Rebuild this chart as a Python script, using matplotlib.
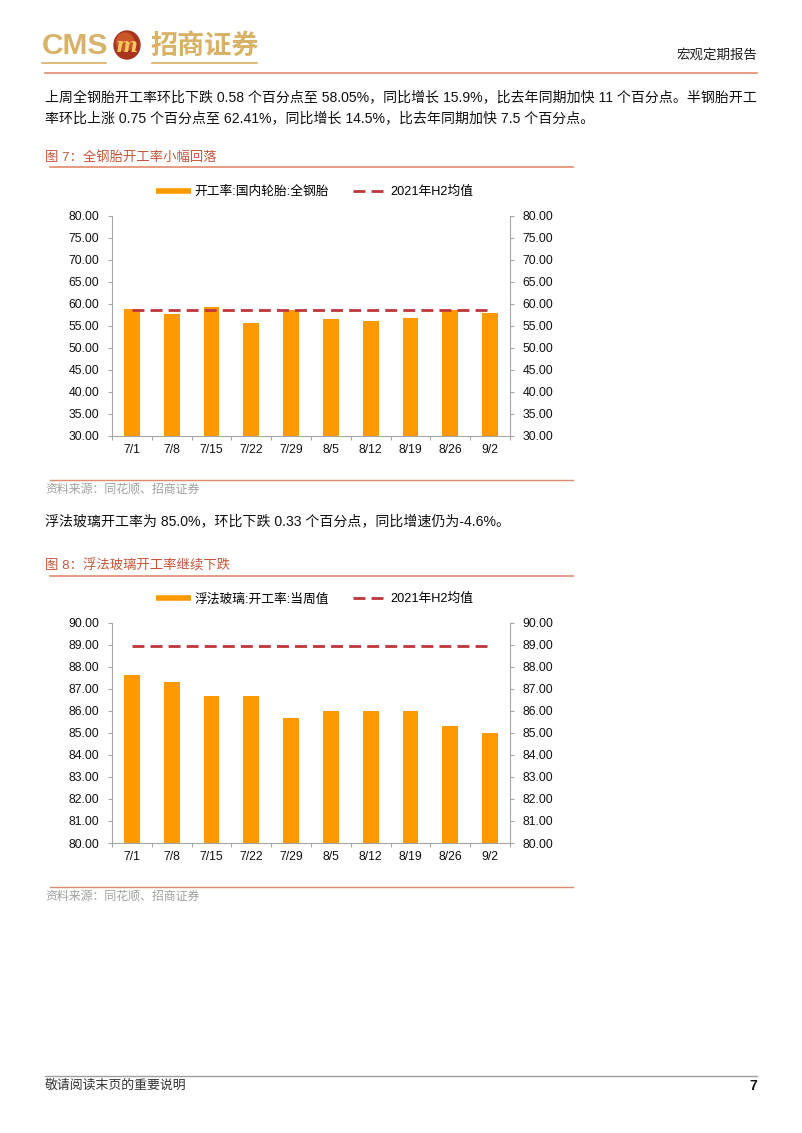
import matplotlib
matplotlib.use('Agg')
import matplotlib.pyplot as plt
from matplotlib.lines import Line2D
from matplotlib.patches import Ellipse

# ---------------- data ----------------
dates = ['7/1', '7/8', '7/15', '7/22', '7/29', '8/5', '8/12', '8/19', '8/26', '9/2']
tire_rate = [58.85, 57.70, 59.40, 55.60, 58.70, 56.70, 56.10, 56.90, 58.63, 58.05]
tire_h2_avg = [58.60, 58.60, 58.60, 58.60, 58.60, 58.60, 58.60, 58.60, 58.60, 58.60]
tire_ticks = [30, 35, 40, 45, 50, 55, 60, 65, 70, 75, 80]

glass_rate = [87.65, 87.31, 86.68, 86.68, 85.67, 86.00, 86.00, 86.00, 85.33, 85.00]
glass_h2_avg = [88.95, 88.95, 88.95, 88.95, 88.95, 88.95, 88.95, 88.95, 88.95, 88.95]
glass_ticks = [80, 81, 82, 83, 84, 85, 86, 87, 88, 89, 90]

tire_label = '开工率:国内轮胎:全钢胎'
glass_label = '浮法玻璃:开工率:当周值'
avg_label = '2021年H2均值'

# ---------------- style ----------------
W, H = 802, 1133
FONT = ['Liberation Sans', 'Noto Sans CJK SC']
plt.rcParams['font.family'] = FONT
ORANGE = '#FF9900'
RED = '#C0363C'
GRAY = '#A6A6A6'
SALMON = '#E08A6E'
TITLE = '#C8553A'
GOLD = '#D8B266'

fig = plt.figure(figsize=(W / 100, H / 100), dpi=100)
bg = fig.add_axes([0, 0, 1, 1])
bg.set_xlim(0, W)
bg.set_ylim(H, 0)
bg.axis('off')

# ---------------- header ----------------
bg.text(42, 46, 'CMS', fontsize=21.5, fontweight='bold', color=GOLD, va='center', ha='left',
        family='Liberation Sans')
bg.add_patch(Ellipse((127, 45), 26, 28, color='#A8341E'))
bg.add_patch(Ellipse((125, 42), 17, 18, color='#C9572A'))
bg.text(127, 46, 'm', fontsize=15, fontweight='bold', fontstyle='italic', color='#F6C65C',
        va='center', ha='center', family='DejaVu Serif')
bg.text(150, 46, '招商证券', fontsize=19.5, fontweight='bold', color=GOLD, va='center', ha='left',
        family='Noto Sans CJK SC')
bg.plot([42, 106], [63, 63], color=GOLD, lw=1.2)
bg.plot([152, 257], [63, 63], color=GOLD, lw=1.2)
bg.text(757, 55, '宏观定期报告', fontsize=9.7, color='#222222', va='center', ha='right')
bg.plot([45, 757], [73, 73], color=SALMON, lw=1.2)

# ---------------- paragraphs ----------------
bg.text(45, 98, '上周全钢胎开工率环比下跌 0.58 个百分点至 58.05%，同比增长 15.9%，比去年同期加快 11 个百分点。半钢胎开工',
        fontsize=10.05, color='#111111', va='center', ha='left')
bg.text(45, 118, '率环比上涨 0.75 个百分点至 62.41%，同比增长 14.5%，比去年同期加快 7.5 个百分点。',
        fontsize=10.05, color='#111111', va='center', ha='left')
bg.text(45, 521, '浮法玻璃开工率为 85.0%，环比下跌 0.33 个百分点，同比增速仍为-4.6%。',
        fontsize=10.05, color='#111111', va='center', ha='left')

# ---------------- titles / source ----------------
def section(title_y, title, src_y):
    bg.text(45, title_y, title, fontsize=9.6, color=TITLE, va='center', ha='left')
    bg.plot([50, 573], [title_y + 10, title_y + 10], color=SALMON, lw=1.2)
    bg.plot([50, 573], [src_y - 9, src_y - 9], color=SALMON, lw=1.0)
    bg.text(45, src_y + 1, '资料来源：同花顺、招商证券', fontsize=8.6, color='#A0A0A0', va='center', ha='left')

section(157, '图 7：全钢胎开工率小幅回落', 489)
section(566, '图 8：浮法玻璃开工率继续下跌', 896)

# ---------------- charts ----------------
def chart(top_px, vals, avg, ticks, bar_label):
    ax = fig.add_axes([112 / W, 1 - (top_px + 220) / H, 398 / W, 220 / H])
    x = list(range(len(dates)))
    ax.bar(x, vals, width=0.4, color=ORANGE, zorder=2)
    ax.plot(x, avg, color=RED, lw=2, dashes=(4.3, 2.2), zorder=3)
    ax.set_xlim(-0.5, len(dates) - 0.5)
    ax.set_ylim(ticks[0], ticks[-1])
    ax.set_yticks(ticks)
    ax.set_yticklabels([f'{t:.2f}' for t in ticks])
    ax.set_xticks(x)
    ax.set_xticklabels(dates)
    ax.set_xticks([i - 0.5 for i in range(len(dates) + 1)], minor=True)
    ax.tick_params(axis='x', which='major', length=0, pad=6, labelsize=8.8, labelcolor='#111111')
    ax.tick_params(axis='x', which='minor', length=3, color=GRAY, direction='out', width=0.8)
    ax.tick_params(axis='y', which='major', length=3, color=GRAY, width=0.8, labelsize=8.8,
                   labelcolor='#111111', pad=6, left=True, right=True, labelleft=True, labelright=True)
    ax.spines['top'].set_visible(False)
    for s in ('left', 'right', 'bottom'):
        ax.spines[s].set_color(GRAY)
        ax.spines[s].set_linewidth(0.8)
    ax.set_facecolor('none')
    handles = [Line2D([], [], color=ORANGE, lw=4, solid_capstyle='butt'),
               Line2D([], [], color=RED, lw=2, dashes=(4.3, 2.2))]
    ax.legend(handles, [bar_label, avg_label], loc='center', bbox_to_anchor=(0.51, 1 + 24 / 220),
              ncol=2, frameon=False, fontsize=9.2, handlelength=2.7, handletextpad=0.25,
              columnspacing=1.9, borderaxespad=0)
    return ax

chart(216, tire_rate, tire_h2_avg, tire_ticks, tire_label)
chart(623, glass_rate, glass_h2_avg, glass_ticks, glass_label)

# ---------------- footer ----------------
bg.plot([45, 757], [1076, 1076], color='#A0A0A0', lw=1.0)
bg.text(45, 1086, '敬请阅读末页的重要说明', fontsize=9.3, color='#333333', va='center', ha='left')
bg.text(757, 1086, '7', fontsize=10, fontweight='bold', color='#111111', va='center', ha='right')

fig.savefig('out.png', dpi=100)
